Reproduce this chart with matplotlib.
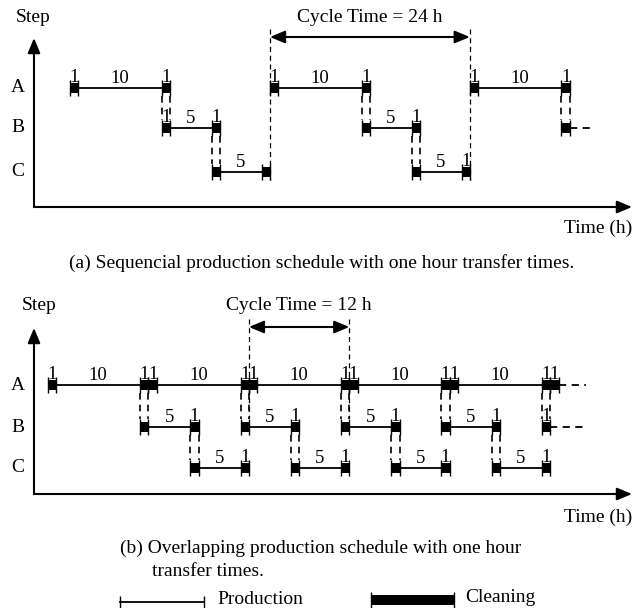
#schedule diagram: sequential vs overlapping production
import matplotlib
matplotlib.use("Agg")
import matplotlib.pyplot as plt
from matplotlib.patches import Rectangle

plt.rcParams['font.family'] = ['Liberation Serif', 'DejaVu Serif']

#data (hours)
steps = ["A", "B", "C"]
prod_len = {"A": 10, "B": 5, "C": 5}
clean_len = 1

#(a) sequential schedule
a_prod_A = [1, 25, 49]
a_prod_B = [12, 36]
a_prod_C = [18, 42]
a_clean_A = [0, 11, 24, 35, 48, 59]
a_clean_B = [11, 17, 35, 41, 59]
a_clean_C = [17, 23, 41, 47]
a_mark_A = [0, 11, 24, 35, 48, 59]  # cleaning blocks labelled "1"
a_mark_B = [11, 17, 41]
a_mark_C = [47]
a_links = [(11, "A", "B"), (17, "B", "C"), (35, "A", "B"), (41, "B", "C"), (59, "A", "B")]
a_tails = [("B", 60, 62.5)]
a_cycle = (24, 48)

#(b) overlapping schedule
b_prod_A = [1, 13, 25, 37, 49]
b_prod_B = [12, 24, 36, 48]
b_prod_C = [18, 30, 42, 54]
b_clean_A = [0, 11, 12, 23, 24, 35, 36, 47, 48, 59, 60]
b_clean_B = [11, 17, 23, 29, 35, 41, 47, 53, 59]
b_clean_C = [17, 23, 29, 35, 41, 47, 53, 59]
b_mark_A = b_clean_A
b_mark_B = [17, 29, 41, 53, 59]
b_mark_C = [23, 35, 47, 59]
b_links = [(11, "A", "B"), (23, "A", "B"), (35, "A", "B"), (47, "A", "B"), (59, "A", "B"),
           (17, "B", "C"), (29, "B", "C"), (41, "B", "C"), (53, "B", "C")]
b_tails = [("A", 61, 64.3), ("B", 60, 64.3)]
b_cycle = (24, 36)

W, H = 644, 608
fs = 14
dash = (0, (4, 3))

fig = plt.figure(figsize=(W / 100, H / 100), dpi=100)
ax0 = fig.add_axes([0, 0, 1, 1])
ax0.set_xlim(0, W)
ax0.set_ylim(H, 0)
ax0.axis("off")


def hour_axes(x0, pxh):
    ax = fig.add_axes([0, 0, 1, 1])
    ax.set_xlim(-x0 / pxh, (W - x0) / pxh)
    ax.set_ylim(H, 0)
    ax.axis("off")
    ax.patch.set_visible(False)
    return ax


def arrow(ax, p0, p1, style="-|>"):
    ax.annotate("", xy=p1, xytext=p0,
                arrowprops=dict(arrowstyle=style + ",head_length=0.6,head_width=0.25",
                                lw=1.5, color="k", mutation_scale=15, shrinkA=0, shrinkB=0))


def draw_panel(ax, rows, prods, cleans, marks, links, tails, cycle, cyc_y, cyc_top, cyc_bot, cyc_txt_y, cyc_label):
    for s in steps:
        y = rows[s]
        for t in prods[s]:
            ax.plot([t, t + prod_len[s]], [y, y], color="k", lw=1.3)
            ax.text(t + prod_len[s] / 2, y - 5, str(prod_len[s]), ha="center", va="baseline", fontsize=fs - 0.5)
        for t in cleans[s]:
            ax.add_patch(Rectangle((t, y - 5), clean_len, 10, facecolor="k", edgecolor="none"))
            ax.vlines([t, t + clean_len], y - 8, y + 8, color="k", lw=1.0)
        for t in marks[s]:
            ax.text(t + clean_len / 2, y - 6, "1", ha="center", va="baseline", fontsize=fs - 0.5)
    for t, r1, r2 in links:
        ax.vlines([t, t + clean_len], rows[r1] + 8, rows[r2] - 8, color="k", lw=1.2, linestyles=[dash])
    for s, t0, t1 in tails:
        ax.plot([t0, t1], [rows[s], rows[s]], color="k", lw=1.3, ls=dash)
    ax.vlines(list(cycle), cyc_top, cyc_bot, color="k", lw=0.9, linestyles=[dash])
    arrow(ax, (cycle[0], cyc_y), (cycle[1], cyc_y), "<|-|>")
    ax.text(sum(cycle) / 2, cyc_txt_y, cyc_label, ha="center", va="center", fontsize=fs)


def draw_frame(y_top, y_axis, step_x, step_y, rows, time_y):
    arrow(ax0, (34, y_axis), (34, y_top))
    arrow(ax0, (34, y_axis), (632, y_axis))
    ax0.text(step_x, step_y, "Step", ha="center", va="center", fontsize=fs)
    for s in steps:
        ax0.text(18, rows[s], s, ha="center", va="center", fontsize=fs)
    ax0.text(632, time_y, "Time (h)", ha="right", va="center", fontsize=fs)


#panel (a)
rows_a = {"A": 88, "B": 128, "C": 172}
axa = hour_axes(70, 8.33)
draw_frame(38, 207, 33, 17, rows_a, 228)
draw_panel(axa, rows_a,
           {"A": a_prod_A, "B": a_prod_B, "C": a_prod_C},
           {"A": a_clean_A, "B": a_clean_B, "C": a_clean_C},
           {"A": a_mark_A, "B": a_mark_B, "C": a_mark_C},
           a_links, a_tails, a_cycle, 37, 29, 180, 17, "Cycle Time = 24 h")
ax0.text(322, 263, "(a) Sequencial production schedule with one hour transfer times.",
         ha="center", va="center", fontsize=fs)

#panel (b)
rows_b = {"A": 385, "B": 427, "C": 468}
axb = hour_axes(48, 8.37)
draw_frame(328, 494, 39, 305, rows_b, 517)
draw_panel(axb, rows_b,
           {"A": b_prod_A, "B": b_prod_B, "C": b_prod_C},
           {"A": b_clean_A, "B": b_clean_B, "C": b_clean_C},
           {"A": b_mark_A, "B": b_mark_B, "C": b_mark_C},
           b_links, b_tails, b_cycle, 327, 319, 418, 305, "Cycle Time = 12 h")
ax0.text(120, 548, "(b) Overlapping production schedule with one hour", ha="left", va="center", fontsize=fs)
ax0.text(152, 572, "transfer times.", ha="left", va="center", fontsize=fs)

#legend
ax0.plot([120, 204], [602, 602], color="k", lw=1.3)
ax0.vlines([120, 204], 596, 608, color="k", lw=1.0)
ax0.text(217, 600, "Production", ha="left", va="center", fontsize=fs)
ax0.add_patch(Rectangle((371, 595), 83, 10, facecolor="k", edgecolor="none"))
ax0.vlines([371, 454], 592, 608, color="k", lw=1.0)
ax0.text(465, 598, "Cleaning", ha="left", va="center", fontsize=fs)

fig.savefig("out.png", dpi=100)
